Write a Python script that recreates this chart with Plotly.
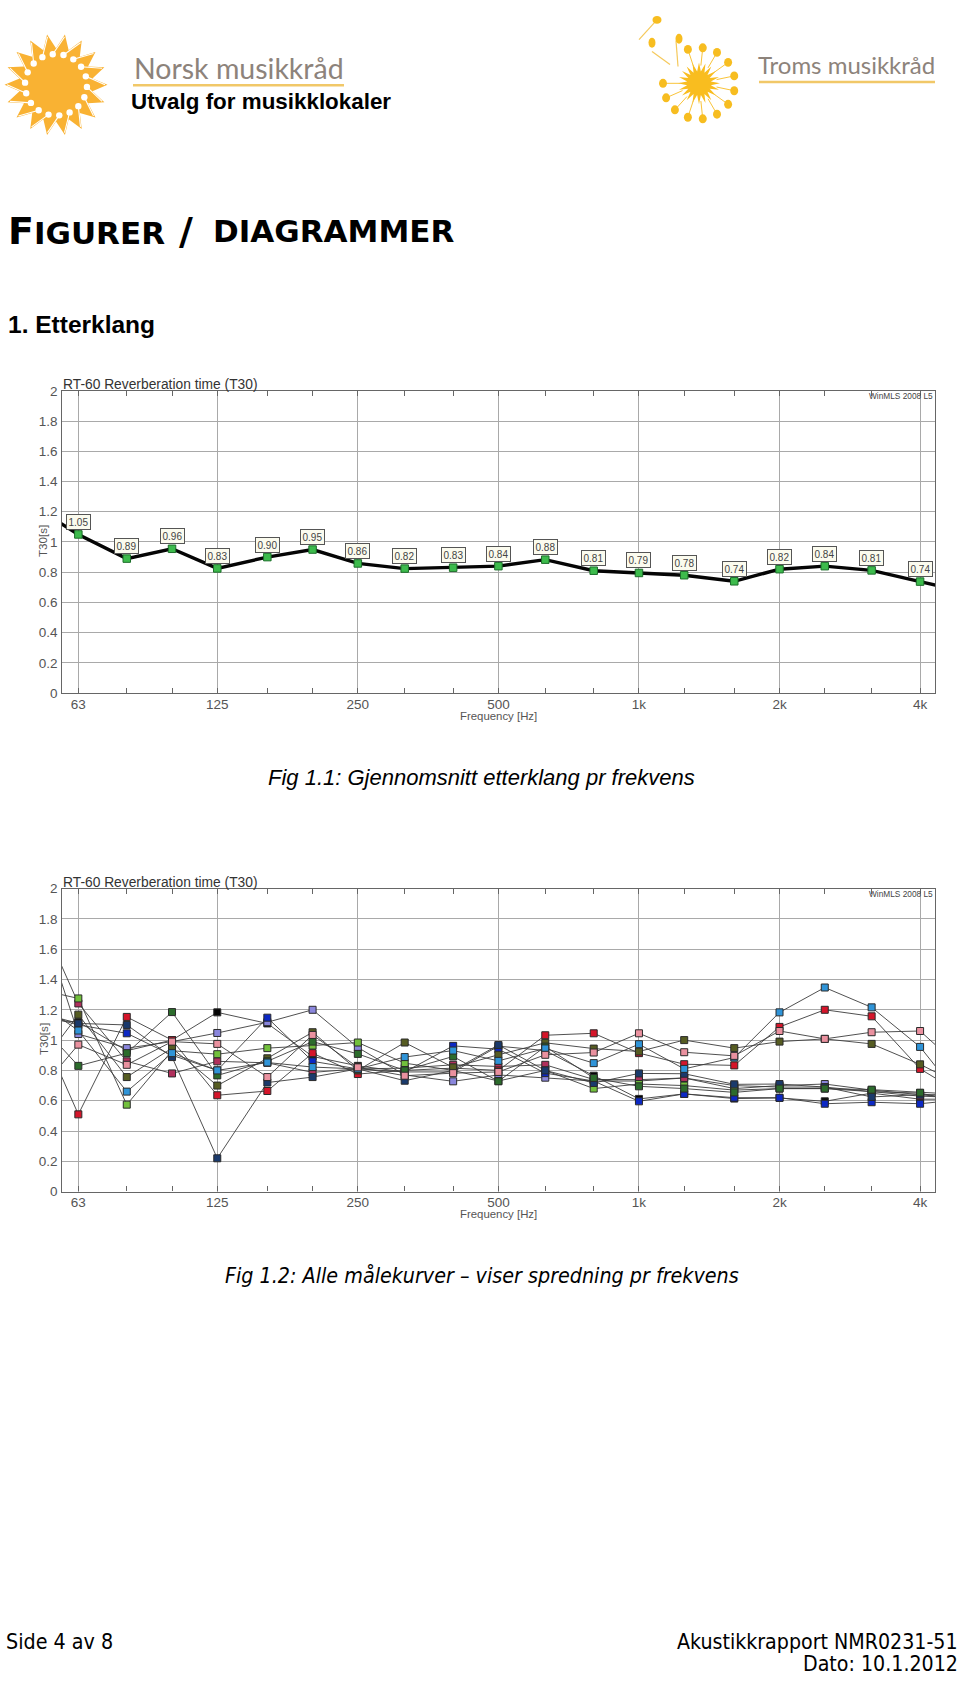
import math
import plotly.graph_objects as go

W, H = 960, 1681
freqs = [63, 80, 100, 125, 160, 200, 250, 315, 400, 500, 630, 800, 1000, 1250, 1600, 2000, 2500, 3150, 4000]
ext_low, ext_high = 50, 5000
major_vals = [63, 125, 250, 500, 1000, 2000, 4000]
major_text = ["63", "125", "250", "500", "1k", "2k", "4k"]
minor_vals = [80, 100, 160, 200, 315, 400, 630, 800, 1250, 1600, 2500, 3150]
y_ticks = [0, .2, .4, .6, .8, 1, 1.2, 1.4, 1.6, 1.8, 2]
y_text = ["0", "0.2", "0.4", "0.6", "0.8", "1", "1.2", "1.4", "1.6", "1.8", "2"]

avg_vals = [1.05, .89, .955, .825, .90, .95, .858, .824, .83, .84, .883, .81, .795, .78, .74, .82, .84, .812, .738]
avg_labels = ["1.05", "0.89", "0.96", "0.83", "0.90", "0.95", "0.86", "0.82", "0.83", "0.84", "0.88", "0.81", "0.79", "0.78", "0.74", "0.82", "0.84", "0.81", "0.74"]
avg_low, avg_high = 1.245, .67

# each: 50 Hz lead-in, 63..4k, 5 kHz lead-out
s_black = [1.14, 1.12, .93, 1.0, 1.183, 1.11, .892, .83, .79, .79, .96, .931, .765, .612, .645, .614, .618, .596, .65, .61, .61]
s_lightpurple = [1.99, 1.04, .947, .99, 1.047, 1.118, 1.2, .951, .77, .728, .77, .752, .73, .73, .75, .68, .70, .71, .67, .64, .64]
s_crimson = [1.936, 1.242, .86, .78, .86, .85, .787, .81, .815, .837, .826, .837, .74, .739, .75, .70, .69, .69, .66, .63, .62]
s_lightgreen = [1.345, 1.275, .574, .93, .907, .947, .964, .984, .848, .80, .73, .80, .68, .71, .70, .67, .68, .68, .66, .65, .59]
s_blue = [1.184, 1.10, 1.045, .90, .80, 1.148, .86, .81, .79, .962, .94, .782, .73, .596, .645, .62, .62, .58, .59, .58, .61]
s_navy = [1.194, 1.11, 1.10, .888, .22, .72, .756, .81, .732, .80, .968, .80, .717, .78, .778, .708, .71, .69, .625, .64, .61]
s_red = [1.21, .51, 1.153, 1.0, .636, .664, .914, .776, .80, .815, .80, 1.032, 1.045, .914, .841, .833, 1.087, 1.2, 1.157, .81, .63]
s_olive = [.754, 1.168, .756, .947, .70, .88, 1.052, .80, .984, .82, .903, .982, .944, .925, 1.0, .947, .99, 1.008, .975, .84, .69]
s_darkgreen = [1.166, .83, .914, 1.185, .767, .86, .99, .909, .80, .892, .728, .957, .75, .695, .68, .655, .68, .68, .673, .653, .64]
s_sky = [1.279, 1.063, .66, .914, .80, .852, .822, .81, .888, .931, .863, .945, .848, .973, .81, .885, 1.183, 1.347, 1.216, .955, .58]
s_pink = [.606, .97, .837, .99, .975, .756, 1.034, .82, .765, .782, .79, .903, .918, 1.045, .92, .896, 1.06, 1.008, 1.052, 1.06, .79]

series = [
    (s_black, "#050505"), (s_lightpurple, "#8a86dc"), (s_crimson, "#b0305c"),
    (s_lightgreen, "#72c03c"), (s_blue, "#0c28c4"), (s_navy, "#1a3a6c"),
    (s_red, "#d5152a"), (s_olive, "#565c22"), (s_darkgreen, "#2c6c2c"),
    (s_sky, "#2f94d8"), (s_pink, "#ea919f"),
]

LEFT, RIGHT = 61.5, 935
PLOTS = [(387.3, 692.3), (889.5, 1195.3)]
def px(x): return x / W
def py(y): return 1 - y / H

GRID = "#a9a9a9"
TEXT = "#555555"
FONT = "Liberation Sans"
COND = "DejaVu Sans Condensed"

fig = go.Figure()
full_x = [ext_low] + freqs + [ext_high]
fig.add_trace(go.Scatter(x=full_x, y=[avg_low] + avg_vals + [avg_high], mode="lines",
                         line=dict(color="#050505", width=3.4), xaxis="x", yaxis="y", showlegend=False))
fig.add_trace(go.Scatter(x=freqs, y=avg_vals, mode="markers",
                         marker=dict(symbol="square", size=7.5, color="#3dbb4c", line=dict(color="#1c6e2a", width=1)),
                         xaxis="x", yaxis="y", showlegend=False))
for vals, col in series:
    fig.add_trace(go.Scatter(x=full_x, y=vals, mode="lines", line=dict(color="#3c3c3c", width=0.9),
                             xaxis="x2", yaxis="y2", showlegend=False))
for vals, col in series:
    fig.add_trace(go.Scatter(x=freqs, y=vals[1:-1], mode="markers",
                             marker=dict(symbol="square", size=7, color=col, line=dict(color="#2a2a2a", width=1)),
                             xaxis="x2", yaxis="y2", showlegend=False))

def xax(anchor, top, bot):
    return dict(type="log", range=[1.7633, 3.634], domain=[px(LEFT), px(RIGHT)], anchor=anchor,
                tickmode="array", tickvals=major_vals, ticktext=major_text,
                ticks="inside", ticklen=5, tickcolor="#666666", tickwidth=1,
                showgrid=True, gridcolor=GRID, gridwidth=1.3, zeroline=False,
                showline=True, linecolor="#666666", linewidth=1.4, mirror="allticks",
                tickfont=dict(family=FONT, size=13.5, color=TEXT), ticklabelstandoff=-2,
                minor=dict(tickmode="array", tickvals=minor_vals, ticks="inside", ticklen=5,
                           tickcolor="#666666", tickwidth=1, showgrid=False))

def yax(anchor, top, bot):
    return dict(range=[0, 2], domain=[py(bot), py(top)], anchor=anchor,
                tickmode="array", tickvals=y_ticks, ticktext=y_text, ticks="",
                showgrid=True, gridcolor=GRID, gridwidth=1.3, zeroline=False,
                showline=True, linecolor="#666666", linewidth=1.4, mirror=True,
                tickfont=dict(family=FONT, size=13.5, color=TEXT))

ann = []
def text(x, y, s, size, color="#000000", family=FONT, anchor="left", **kw):
    ann.append(dict(xref="paper", yref="paper", x=px(x), y=py(y), text=s, showarrow=False, xanchor=anchor,
                    yanchor="middle", font=dict(family=family, size=size, color=color), borderpad=0, **kw))

for f, v, l in zip(freqs, avg_vals, avg_labels):
    ann.append(dict(xref="x", yref="y", x=math.log10(f), y=v, text=l, showarrow=False, yshift=12.5,
                    bgcolor="#fbfbee", bordercolor="#555555", borderwidth=1, borderpad=1.5,
                    font=dict(family=FONT, size=10, color="#444444")))

for top, bot in PLOTS:
    text(62, top - 6, "RT-60 Reverberation time (T30)", 13.8, color="#333333")
    text(934, top + 5, "WinMLS 2008 L5", 8.3, color="#444444", anchor="right")
    text(498, bot + 23, "Frequency [Hz]", 11.4, color=TEXT, anchor="center")
    text(43, (top + bot) / 2 - 1, "T30[s]", 11.6, color=TEXT, anchor="center", textangle=-90)

text(133, 62, "Norsk musikkråd", 28.5, color="#8d837b", family="Lato")
text(130, 95.5, "<b>Utvalg for musikklokaler</b>", 22.4)
text(757, 58, "Troms musikkråd", 24, color="#8d837b", family="Lato")
text(7, 226, '<b><span style="font-size:38px">F</span>IGURER</b>', 31, family="DejaVu Sans")
text(178, 226, "<b>/</b>", 38, family="DejaVu Sans")
text(212, 226, "<b>DIAGRAMMER</b>", 31, family="DejaVu Sans")
text(6.5, 320, "<b>1. Etterklang</b>", 24.5)
text(267, 777, "<i>Fig 1.1: Gjennomsnitt etterklang pr frekvens</i>", 22)
text(224, 1280, "<i>Fig 1.2: Alle målekurver – viser spredning pr frekvens</i>", 21.3, family=COND)
text(5, 1649, "Side 4 av 8", 21.3, family=COND)
text(959, 1649, "Akustikkrapport NMR0231-51", 21.2, family=COND, anchor="right")
text(959, 1671, "Dato: 10.1.2012", 21.2, family=COND, anchor="right")

shapes = []
def path(pts, fill=None, line=None, lw=0):
    d = "M " + " L ".join(f"{px(a):.5f},{py(b):.5f}" for a, b in pts) + " Z"
    shapes.append(dict(type="path", xref="paper", yref="paper", path=d, fillcolor=fill or "rgba(0,0,0,0)",
                       line=dict(color=line or "rgba(0,0,0,0)", width=lw)))
def seg(x0, y0, x1, y1, col, lw):
    shapes.append(dict(type="line", xref="paper", yref="paper", x0=px(x0), y0=py(y0), x1=px(x1), y1=py(y1),
                       line=dict(color=col, width=lw)))
def disc(cx, cy, rx, ry, col):
    shapes.append(dict(type="circle", xref="paper", yref="paper", x0=px(cx - rx), x1=px(cx + rx),
                       y0=py(cy - ry), y1=py(cy + ry), fillcolor=col, line=dict(width=0)))

GOLD = "#f9b233"
# left sun: spiked disc with white notes
cx, cy = 56, 78.5
pts = []
n = 18
for i in range(n):
    a = 2 * math.pi * i / n
    b = a + math.pi / n
    pts.append((cx + 51.5 * math.cos(a), cy + 51.5 * math.sin(a)))
    pts.append((cx + 37 * math.cos(b), cy + 37 * math.sin(b)))
path(pts, fill=GOLD)
for i in range(n):
    a = 2 * math.pi * i / n
    h = a - .28
    seg(cx + 31 * math.cos(h), cy + 31 * math.sin(h), cx + 49 * math.cos(a), cy + 49 * math.sin(a), "#ffffff", 1.1)
    disc(cx + 31 * math.cos(h), cy + 31 * math.sin(h), 3.2, 3.2, "#ffffff")
# right sun
cx, cy = 699, 77
pts = []
n = 20
for i in range(n):
    a = 2 * math.pi * i / n
    b = a + math.pi / n
    pts.append((cx + 21 * math.cos(a), cy + 21 * math.sin(a)))
    pts.append((cx + 12 * math.cos(b), cy + 12 * math.sin(b)))
path(pts, fill="#f9bd1f")
for i in range(15):
    a = 2 * math.pi * (i + .5) / 15
    if 3.3 < a < 4.3:
        continue
    seg(cx + 18 * math.cos(a), cy + 18 * math.sin(a), cx + 33 * math.cos(a), cy + 33 * math.sin(a), "#f9c43a", 1)
    disc(cx + 36 * math.cos(a), cy + 36 * math.sin(a), 4, 4.5, "#f7bd20")
seg(656, 14, 639, 33, "#f5c95c", 1.2)
disc(657, 13, 4.5, 4, "#f7bd20")
seg(652, 45, 670, 58, "#f5c95c", 1.2)
disc(652, 36, 3.5, 5, "#f7bd20")
seg(678, 60, 676, 34, "#f5c95c", 1.2)
disc(679, 32, 3.5, 5, "#f7bd20")
# logo rules
seg(133, 79, 344, 79, "#f1c868", 2.4)
seg(759, 75.7, 935, 75.7, "#f1c868", 2.4)

fig.update_layout(
    width=W, height=H, margin=dict(l=0, r=0, t=0, b=0), paper_bgcolor="#ffffff", plot_bgcolor="#ffffff",
    showlegend=False, annotations=ann, shapes=shapes,
    xaxis=xax("y", *PLOTS[0]), yaxis=yax("x", *PLOTS[0]),
    xaxis2=xax("y2", *PLOTS[1]), yaxis2=yax("x2", *PLOTS[1]),
)
fig.write_html("out.html", config=dict(displayModeBar=False),
               post_script="document.body.style.margin='0';document.body.style.overflow='hidden';")
